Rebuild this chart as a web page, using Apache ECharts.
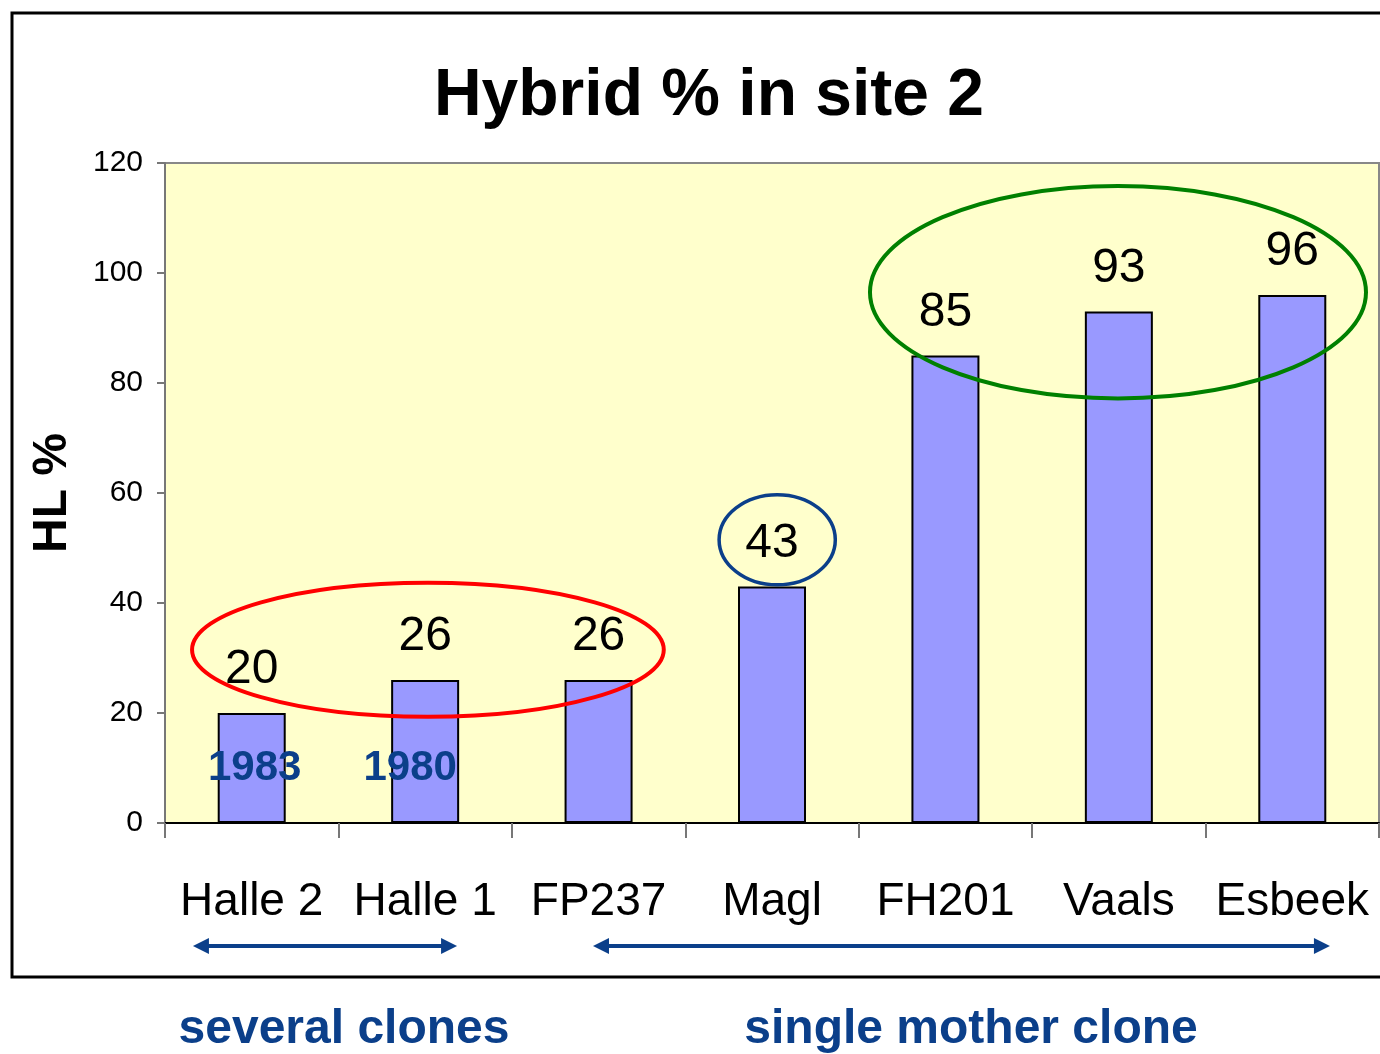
<!DOCTYPE html>
<html><head><meta charset="utf-8">
<script src="https://cdn.jsdelivr.net/npm/echarts@6/dist/echarts.min.js"></script>
<style>html,body{margin:0;padding:0;background:#fff}#c{width:1380px;height:1054px}</style>
</head><body><div id="c"></div>
<script>
var categories = ['Halle 2', 'Halle 1', 'FP237', 'Magl', 'FH201', 'Vaals', 'Esbeek'];
var hybridPct = [20, 26, 26, 43, 85, 93, 96];
var yearLabels = ['1983', '1980'];
var yearValues = [10, 10];
var yearOffsets = [3, -15];
var FONT = 'Liberation Sans, Arial, sans-serif';
var NAVY = '#0B3F8A';

var chart = echarts.init(document.getElementById('c'), null, {renderer: 'canvas'});
var option = {
  animation: false,
  backgroundColor: '#fff',
  title: {
    text: 'Hybrid % in site 2', left: 704, top: 59, textAlign: 'center',
    textStyle: {fontFamily: FONT, fontSize: 66, fontWeight: 'bold', color: '#000'}
  },
  grid: {
    left: 165, top: 163, right: 1, bottom: 231, show: true,
    backgroundColor: '#FFFFCC', borderColor: '#888', borderWidth: 2
  },
  xAxis: {
    type: 'category', data: categories,
    axisLine: {lineStyle: {color: '#000', width: 2}},
    axisTick: {show: true, length: 15, lineStyle: {color: '#777', width: 2}},
    axisLabel: {fontFamily: FONT, fontSize: 46, color: '#000', margin: 56, interval: 0}
  },
  yAxis: {
    type: 'value', min: 0, max: 120, interval: 20,
    name: 'HL %', nameLocation: 'middle', nameRotate: 90, nameGap: 88,
    nameTextStyle: {fontFamily: FONT, fontSize: 48, fontWeight: 'bold', color: '#000'},
    axisLine: {show: true, lineStyle: {color: '#777', width: 2}},
    axisTick: {show: true, length: 8, lineStyle: {color: '#777', width: 2}},
    axisLabel: {fontFamily: FONT, fontSize: 30, color: '#000', margin: 22},
    splitLine: {show: false}
  },
  series: [{
    type: 'bar', data: hybridPct, barWidth: 68,
    itemStyle: {color: '#9999FF', borderColor: '#000', borderWidth: 2},
    label: {show: true, position: 'top', distance: 19, fontFamily: FONT, fontSize: 48, color: '#000'}
  }, {
    type: 'scatter', symbolSize: 0, silent: true,
    itemStyle: {opacity: 1},
    data: yearValues.map(function (v, i) {
      return {value: [i, v], label: {offset: [yearOffsets[i], 0]}};
    }),
    label: {
      show: true, position: 'inside',
      formatter: function (p) { return yearLabels[p.dataIndex]; },
      fontFamily: FONT, fontSize: 42, fontWeight: 'bold', color: NAVY
    },
    z: 5
  }]
};
chart.setOption(option);

// annotations positioned from data coordinates
var p0 = chart.convertToPixel({gridIndex: 0}, [0, 0]);
var p1 = chart.convertToPixel({gridIndex: 0}, [1, 0]);
var band = p1[0] - p0[0];
function X(i) { return p0[0] + i * band; }
function Y(v) { return chart.convertToPixel({gridIndex: 0}, [0, v])[1]; }
var unit = Y(0) - Y(1);

function ellipse(ci, v, rxBands, ryUnits, color, w) {
  return {type: 'ellipse', z: 100, silent: true,
    shape: {cx: X(ci), cy: Y(v), rx: rxBands * band, ry: ryUnits * unit},
    style: {fill: null, stroke: color, lineWidth: w}};
}
function arrow(a, b, y) {
  var xa = X(a), xb = X(b), L = 16, H = 8;
  return [
    {type: 'line', z: 100, shape: {x1: xa + L - 2, y1: y, x2: xb - L + 2, y2: y}, style: {stroke: NAVY, lineWidth: 4}},
    {type: 'polygon', z: 100, shape: {points: [[xa, y], [xa + L, y - H], [xa + L, y + H]]}, style: {fill: NAVY}},
    {type: 'polygon', z: 100, shape: {points: [[xb, y], [xb - L, y - H], [xb - L, y + H]]}, style: {fill: NAVY}}
  ];
}
var arrowY = Y(0) + 123;
var g = [
  {type: 'rect', z: 0, silent: true, shape: {x: 12, y: 13, width: 1400, height: 964},
    style: {fill: null, stroke: '#000', lineWidth: 3}},
  ellipse(1.016, 31.5, 1.36, 12.2, '#FF0000', 4),
  ellipse(4.995, 96.5, 1.43, 19.3, '#008000', 4),
  ellipse(3.03, 51.5, 0.335, 8.2, NAVY, 3.5)
].concat(arrow(-0.339, 1.184, arrowY)).concat(arrow(1.968, 6.217, arrowY)).concat([
  {type: 'text', z: 100, style: {text: 'several clones', x: 344, y: 1030, textAlign: 'center', textVerticalAlign: 'middle',
    font: 'bold 48px ' + FONT, fill: NAVY}},
  {type: 'text', z: 100, style: {text: 'single mother clone', x: 971, y: 1030, textAlign: 'center', textVerticalAlign: 'middle',
    font: 'bold 48px ' + FONT, fill: NAVY}}
]);
chart.setOption({graphic: g});
</script>
</body></html>
